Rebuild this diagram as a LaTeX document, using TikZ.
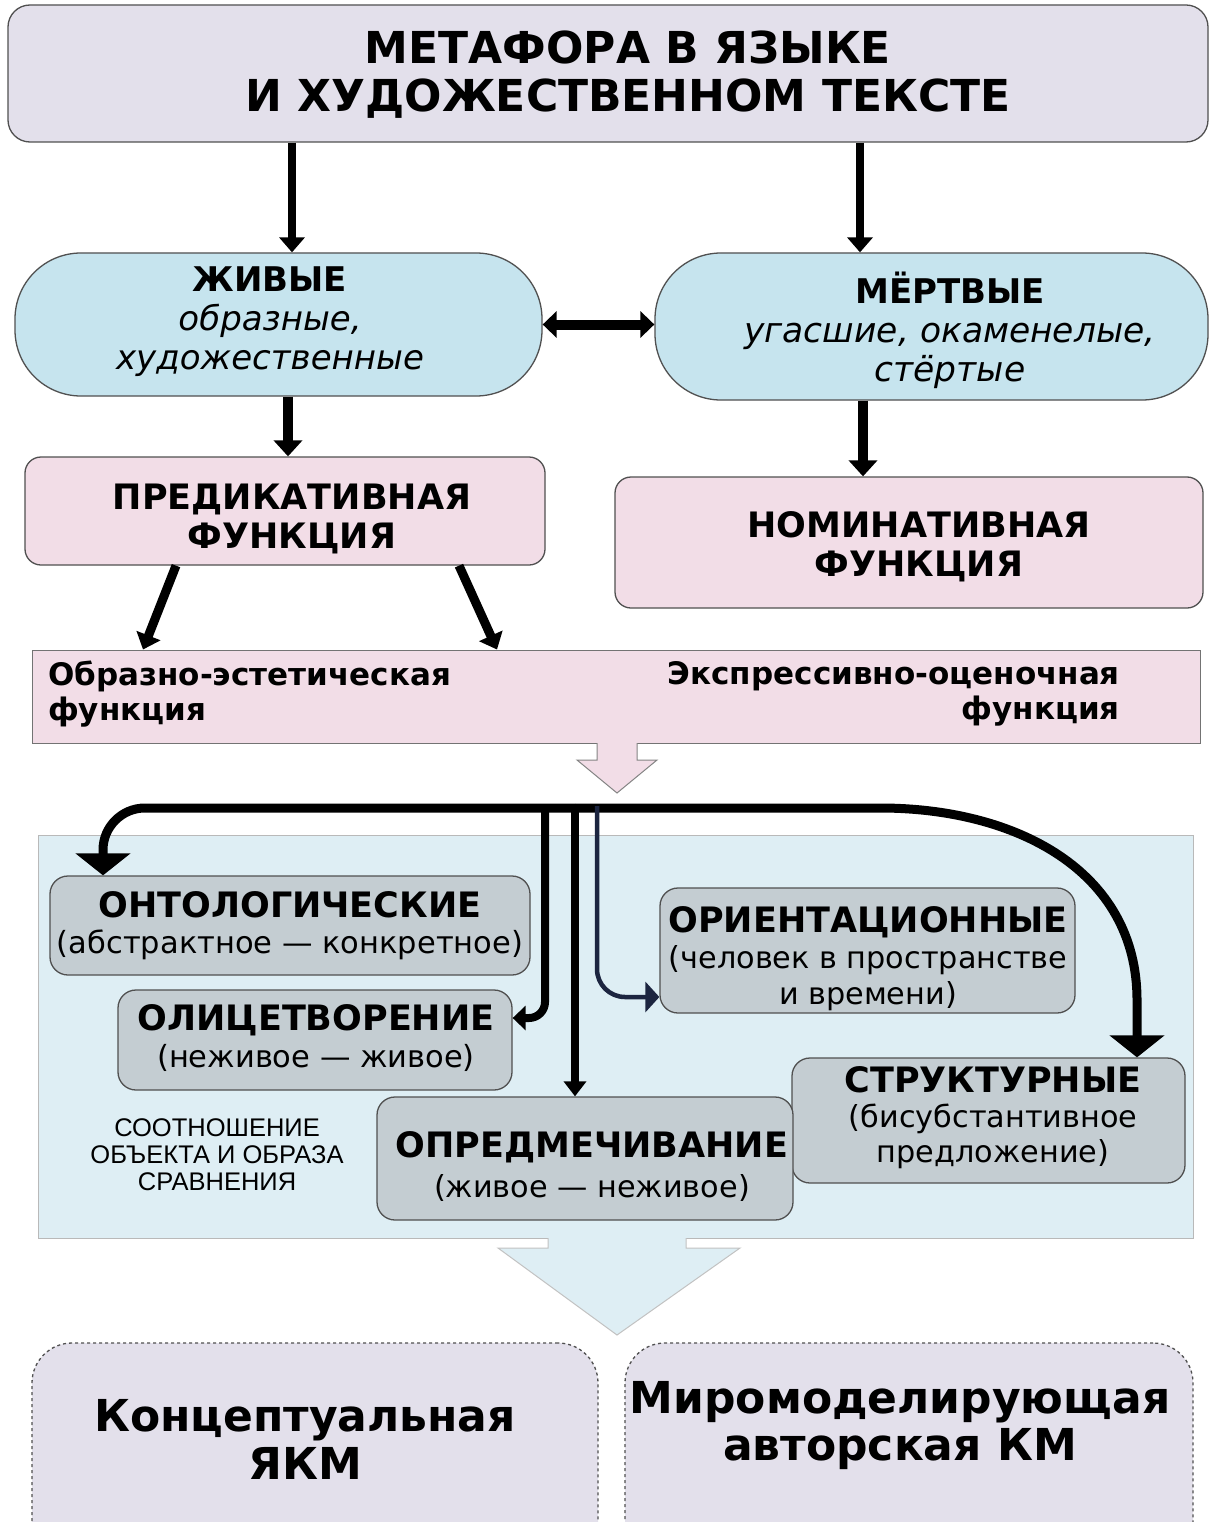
\documentclass[tikz,border=0pt]{standalone}
\usepackage{fontspec}
\setmainfont{DejaVu Sans}
\newfontfamily\arialf{Liberation Sans}
\usetikzlibrary{arrows.meta}
\definecolor{lav}{HTML}{E3E0EB}
\definecolor{lblue}{HTML}{C6E4EE}
\definecolor{pinkc}{HTML}{F2DDE7}
\definecolor{grayc}{HTML}{C4CDD2}
\definecolor{bgblue}{HTML}{DEEEF4}
\definecolor{bord}{HTML}{505050}
\definecolor{navy}{HTML}{1C2540}
\newcommand\myfs[2]{\fontsize{#1}{#2}\selectfont}
\begin{document}
\begin{tikzpicture}[x=1pt,y=-1pt,
  box/.style={draw=bord, line width=1.3pt, rounded corners=14pt, inner sep=0pt},
  titlebox/.style={box, fill=lav, rounded corners=22pt},
  livebox/.style={box, fill=lblue, rounded corners=66pt},
  pinkbox/.style={box, fill=pinkc, rounded corners=16pt},
  graybox/.style={box, fill=grayc, rounded corners=18pt},
  dashbox/.style={box, fill=lav, dashed, rounded corners=40pt, draw=bord},
  txt/.style={align=center, inner sep=0pt},
  arr/.style={line width=8pt, -{Triangle[width=25pt,length=15pt]}},
  busline/.style={line width=9pt, -{Triangle[width=54pt,length=22pt]}},
  midline/.style={line width=8pt, -{Triangle[width=24pt,length=13pt]}},
  navline/.style={line width=4.5pt, draw=navy, -{Triangle[width=30pt,length=14pt]}, navy},
  hollow/.style={draw=bord!70, line width=1pt},
]
\useasboundingbox (0,0) rectangle (1216,1522);
\clip (0,0) rectangle (1216,1522);
\fill[white] (0,0) rectangle (1216,1522);

% --- top part ---
\node[titlebox, minimum width=1200pt, minimum height=137pt] (title) at (608,73.5) {};
\node[txt, font=\bfseries\myfs{44}{48}] (titleT) at (628,75) {МЕТАФОРА В ЯЗЫКЕ\\И ХУДОЖЕСТВЕННОМ ТЕКСТЕ};

\node[livebox, minimum width=527pt, minimum height=143pt] (alive) at (278.5,324.5) {};
\node[txt, font=\itshape\myfs{34}{39}] (aliveT) at (270,322) {{\upshape\bfseries\myfs{34}{39}ЖИВЫЕ}\\образные,\\художественные};

\node[livebox, minimum width=553pt, minimum height=147pt] (dead) at (931.5,326.5) {};
\node[txt, font=\itshape\myfs{34.5}{39}] (deadT) at (950,330) {{\upshape\bfseries\myfs{34}{39}МЁРТВЫЕ}\\угасшие, окаменелые,\\стёртые};

\node[pinkbox, minimum width=520pt, minimum height=108pt] (pred) at (285,511) {};
\node[txt, font=\bfseries\myfs{35}{39}] (predT) at (292,519) {ПРЕДИКАТИВНАЯ\\ФУНКЦИЯ};

\node[pinkbox, minimum width=588pt, minimum height=131pt] (nom) at (909,542.5) {};
\node[txt, font=\bfseries\myfs{35}{39}] (nomT) at (919,547) {НОМИНАТИВНАЯ\\ФУНКЦИЯ};

\node[draw=bord!80, line width=1pt, fill=pinkc, inner sep=0pt, minimum width=1168pt, minimum height=93pt] (fun) at (616,696.5) {};
\node[align=left, inner sep=0pt, anchor=west, font=\bfseries\myfs{31}{35}] (funL) at (48,694) {Образно-эстетическая\\функция};
\node[align=right, inner sep=0pt, anchor=east, font=\bfseries\myfs{31}{35}] (funR) at (1120,694) {Экспрессивно-оценочная\\функция};

% hollow pink arrow
\fill[pinkc] (597,742) -- (597,760) -- (577,760) -- (617,793) -- (657,760) -- (637,760) -- (637,742) -- cycle;
\draw[hollow] (597,743) -- (597,760) -- (577,760) -- (617,793) -- (657,760) -- (637,760) -- (637,743);

% connectors top
\coordinate (xL) at (292,0);
\coordinate (xR) at (860,0);
\coordinate (xL2) at (288,0);
\coordinate (xR2) at (863,0);
\draw[arr] (title.south -| xL) -- (alive.north -| xL);
\draw[arr] (title.south -| xR) -- (dead.north -| xR);
\draw[line width=10pt, {Triangle[width=26pt,length=14pt]}-{Triangle[width=26pt,length=14pt]}] (alive.east) -- (dead.west |- alive.east);
\draw[arr, line width=10pt, -{Triangle[width=28pt,length=16pt]}] (alive.south -| xL2) -- (pred.north -| xL2);
\draw[arr, line width=10pt, -{Triangle[width=28pt,length=16pt]}] (dead.south -| xR2) -- (nom.north -| xR2);
\coordinate (d1) at (176,0);
\coordinate (d2) at (143,0);
\coordinate (d3) at (459,0);
\coordinate (d4) at (497,0);
\draw[arr, line width=9pt] (pred.south -| d1) -- (fun.north -| d2);
\draw[arr, line width=9pt] (pred.south -| d3) -- (fun.north -| d4);

% --- lower panel ---
\node[draw=bord!40, line width=1pt, fill=bgblue, inner sep=0pt, minimum width=1155pt, minimum height=403pt] (panel) at (615.5,1036.5) {};

\node[graybox, minimum width=480pt, minimum height=99pt] (ont) at (290,925.5) {};
\node[txt, font=\myfs{30.5}{36}] (ontT) at (290,926) {{\bfseries\myfs{35}{36}ОНТОЛОГИЧЕСКИЕ}\\(абстрактное — конкретное)};

\node[graybox, minimum width=394pt, minimum height=100pt] (olits) at (315,1040) {};
\node[txt, font=\myfs{30.5}{37}] (olitsT) at (316,1038) {{\bfseries\myfs{35}{37}ОЛИЦЕТВОРЕНИЕ}\\(неживое — живое)};

\node[graybox, minimum width=415pt, minimum height=125pt] (orient) at (867.5,950.5) {};
\node[txt, font=\myfs{30.3}{36}] (orientT) at (868,959) {{\bfseries\myfs{35}{36}ОРИЕНТАЦИОННЫЕ}\\(человек в пространстве\\и времени)};

\node[graybox, minimum width=393pt, minimum height=125pt] (struct) at (988.5,1120.5) {};
\node[txt, font=\myfs{30.3}{35}] (structT) at (993,1118) {{\bfseries\myfs{35}{35}СТРУКТУРНЫЕ}\\(бисубстантивное\\предложение)};

\node[graybox, minimum width=416pt, minimum height=123pt] (opred) at (585,1158.5) {};
\node[txt, font=\myfs{30.3}{40}] (opredT) at (592,1166) {{\bfseries\myfs{35}{40}ОПРЕДМЕЧИВАНИЕ}\\(живое — неживое)};

\node[txt, font=\arialf\myfs{25.5}{27}] (sootn) at (217,1155) {СООТНОШЕНИЕ\\ОБЪЕКТА И ОБРАЗА\\СРАВНЕНИЯ};

% bus connectors
\coordinate (bus) at (575,808);
\coordinate (xO) at (103,0);
\coordinate (xS) at (1137,0);
\coordinate (x545) at (545,0);
\coordinate (x575) at (575,0);
\coordinate (x597) at (597,0);
\coordinate (yO) at (0,1018);
\coordinate (yR) at (0,997);
\draw[busline, rounded corners=42pt] (bus) -| (ont.north -| xO);
\draw[busline] (bus) -- (880,808) .. controls (1015,808) and (1137,870) .. (1137,1000) -- (struct.north -| xS);
\draw[midline, rounded corners=16pt] (bus -| x545) |- (yO -| olits.east);
\draw[midline, -{Triangle[width=22pt,length=15pt]}] (bus -| x575) -- (opred.north -| x575);
\draw[navline, rounded corners=28pt] (597,806) |- (yR -| orient.west);

% big light blue arrow
\fill[bgblue] (548,1237) -- (548,1248) -- (498,1248) -- (617,1335) -- (740,1248) -- (686,1248) -- (686,1237) -- cycle;
\draw[draw=bord!35, line width=1pt] (548,1238) -- (548,1248) -- (498,1248) -- (617,1335) -- (740,1248) -- (686,1248) -- (686,1238);

% bottom boxes
\node[dashbox, minimum width=566pt, minimum height=237pt] (yakm) at (315,1461.5) {};
\node[txt, font=\bfseries\myfs{44}{48}] (yakmT) at (305,1439) {Концептуальная\\ЯКМ};
\node[dashbox, minimum width=568pt, minimum height=237pt] (akm) at (909,1461.5) {};
\node[txt, font=\bfseries\myfs{44}{47}] (akmT) at (900,1426) {Миромоделирующая\\авторская КМ};
\end{tikzpicture}
\end{document}
